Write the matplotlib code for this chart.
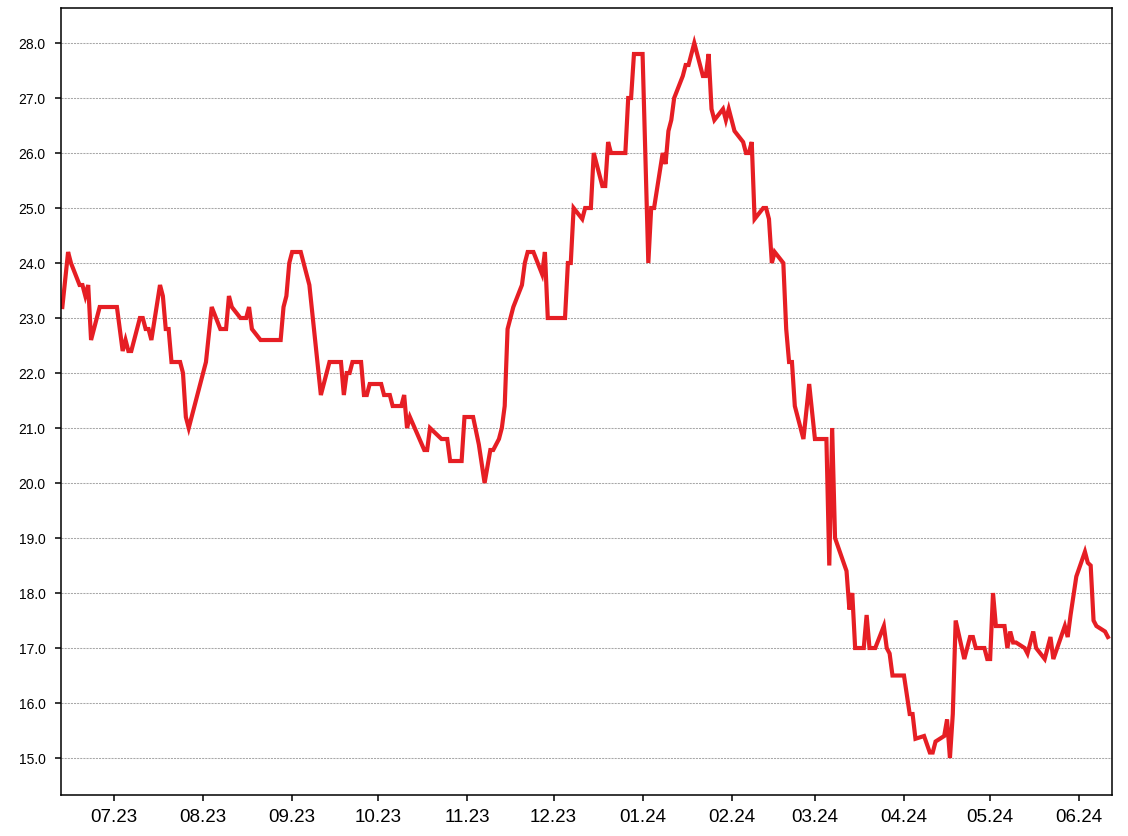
import matplotlib
matplotlib.use("Agg")
import matplotlib.pyplot as plt
import matplotlib.dates as mdates
import pandas as pd
from datetime import datetime

plt.rcParams['font.family'] = ['Liberation Sans', 'DejaVu Sans']

red = '#e61e24'

dates = [
    "2023-06-13", "2023-06-15", "2023-06-16", "2023-06-19", "2023-06-20", "2023-06-21",
    "2023-06-22", "2023-06-23", "2023-06-26", "2023-07-02", "2023-07-04", "2023-07-05",
    "2023-07-06", "2023-07-07", "2023-07-10", "2023-07-11", "2023-07-12", "2023-07-13",
    "2023-07-14", "2023-07-17", "2023-07-18", "2023-07-19", "2023-07-20", "2023-07-21",
    "2023-07-24", "2023-07-25", "2023-07-26", "2023-07-27", "2023-07-31", "2023-08-02",
    "2023-08-04", "2023-08-07", "2023-08-09", "2023-08-10", "2023-08-11", "2023-08-14",
    "2023-08-16", "2023-08-17", "2023-08-18", "2023-08-21", "2023-08-28", "2023-08-29",
    "2023-08-30", "2023-08-31", "2023-09-01", "2023-09-04", "2023-09-07", "2023-09-11",
    "2023-09-14", "2023-09-18", "2023-09-19", "2023-09-20", "2023-09-21", "2023-09-22",
    "2023-09-25", "2023-09-26", "2023-09-27", "2023-09-28", "2023-10-02", "2023-10-03",
    "2023-10-05", "2023-10-06", "2023-10-09", "2023-10-10", "2023-10-11", "2023-10-12",
    "2023-10-17", "2023-10-18", "2023-10-19", "2023-10-23", "2023-10-25", "2023-10-26",
    "2023-10-30", "2023-10-31", "2023-11-03", "2023-11-05", "2023-11-07", "2023-11-09",
    "2023-11-10", "2023-11-12", "2023-11-13", "2023-11-14", "2023-11-15", "2023-11-17",
    "2023-11-20", "2023-11-21", "2023-11-22", "2023-11-24", "2023-11-27", "2023-11-28",
    "2023-11-29", "2023-12-05", "2023-12-06", "2023-12-07", "2023-12-08", "2023-12-11",
    "2023-12-12", "2023-12-14", "2023-12-15", "2023-12-18", "2023-12-19", "2023-12-20",
    "2023-12-21", "2023-12-26", "2023-12-27", "2023-12-28", "2023-12-29", "2024-01-01",
    "2024-01-03", "2024-01-04", "2024-01-05", "2024-01-08", "2024-01-09", "2024-01-10",
    "2024-01-11", "2024-01-12", "2024-01-15", "2024-01-16", "2024-01-17", "2024-01-19",
    "2024-01-22", "2024-01-23", "2024-01-24", "2024-01-25", "2024-01-26", "2024-01-29",
    "2024-01-30", "2024-01-31", "2024-02-02", "2024-02-05", "2024-02-06", "2024-02-07",
    "2024-02-08", "2024-02-09", "2024-02-12", "2024-02-13", "2024-02-14", "2024-02-15",
    "2024-02-16", "2024-02-19", "2024-02-20", "2024-02-21", "2024-02-22", "2024-02-23",
    "2024-02-26", "2024-02-28", "2024-03-01", "2024-03-05", "2024-03-06", "2024-03-07",
    "2024-03-08", "2024-03-12", "2024-03-13", "2024-03-14", "2024-03-15", "2024-03-18",
    "2024-03-19", "2024-03-20", "2024-03-22", "2024-03-25", "2024-03-26", "2024-03-27",
    "2024-03-28", "2024-04-01", "2024-04-03", "2024-04-04", "2024-04-05", "2024-04-08",
    "2024-04-10", "2024-04-11", "2024-04-12", "2024-04-15", "2024-04-16", "2024-04-17",
    "2024-04-18", "2024-04-19", "2024-04-22", "2024-04-24", "2024-04-25", "2024-04-26",
    "2024-04-29", "2024-04-30", "2024-05-01", "2024-05-02", "2024-05-03", "2024-05-06",
    "2024-05-07", "2024-05-08", "2024-05-09", "2024-05-10", "2024-05-13", "2024-05-14",
    "2024-05-16", "2024-05-17", "2024-05-20", "2024-05-22", "2024-05-23", "2024-05-27",
    "2024-05-28", "2024-05-29", "2024-05-31", "2024-06-03", "2024-06-04", "2024-06-05",
    "2024-06-06", "2024-06-07", "2024-06-10", "2024-06-11",
]

prices = [
    23.2, 24.2, 24.0, 23.6, 23.6, 23.4,
    23.6, 22.6, 23.2, 23.2, 22.4, 22.6,
    22.4, 22.4, 23.0, 23.0, 22.8, 22.8,
    22.6, 23.6, 23.4, 22.8, 22.8, 22.2,
    22.2, 22.0, 21.2, 21.0, 21.8, 22.2,
    23.2, 22.8, 22.8, 23.4, 23.2, 23.0,
    23.0, 23.2, 22.8, 22.6, 22.6, 23.2,
    23.4, 24.0, 24.2, 24.2, 23.6, 21.6,
    22.2, 22.2, 21.6, 22.0, 22.0, 22.2,
    22.2, 21.6, 21.6, 21.8, 21.8, 21.6,
    21.6, 21.4, 21.4, 21.6, 21.0, 21.2,
    20.6, 20.6, 21.0, 20.8, 20.8, 20.4,
    20.4, 21.2, 21.2, 20.7, 20.0, 20.6,
    20.6, 20.8, 21.0, 21.4, 22.8, 23.2,
    23.6, 24.0, 24.2, 24.2, 23.8, 24.2,
    23.0, 23.0, 24.0, 24.0, 25.0, 24.8,
    25.0, 25.0, 26.0, 25.4, 25.4, 26.2,
    26.0, 26.0, 27.0, 27.0, 27.8, 27.8,
    24.0, 25.0, 25.0, 26.0, 25.8, 26.4,
    26.6, 27.0, 27.4, 27.6, 27.6, 28.0,
    27.4, 27.4, 27.8, 26.8, 26.6, 26.8,
    26.6, 26.8, 26.4, 26.2, 26.0, 26.0,
    26.2, 24.8, 25.0, 25.0, 24.8, 24.0,
    24.2, 24.0, 22.8, 22.2, 22.2, 21.4,
    20.8, 21.8, 20.8, 20.8, 18.5, 21.0,
    19.0, 18.4, 17.7, 18.0, 17.0, 17.0,
    17.6, 17.0, 17.0, 17.4, 17.0, 16.9,
    16.5, 16.5, 15.8, 15.8, 15.35, 15.4,
    15.1, 15.1, 15.3, 15.4, 15.7, 15.0,
    15.8, 17.5, 16.8, 17.2, 17.2, 17.0,
    17.0, 16.8, 16.8, 18.0, 17.4, 17.4,
    17.0, 17.3, 17.1, 17.1, 17.0, 16.9,
    17.3, 17.0, 16.8, 17.2, 16.8, 17.4,
    17.2, 17.6, 18.3, 18.75, 18.55, 18.5,
    17.5, 17.4, 17.3, 17.2,
]

y_ticks = [15, 16, 17, 18, 19, 20, 21, 22, 23, 24, 25, 26, 27, 28]

x = pd.to_datetime(dates)

fig = plt.figure(figsize=(11.28, 8.36), dpi=100)
ax = fig.add_axes([0.0541, 0.049, 0.9317, 0.9414])

ax.plot(x, prices, color=red, linewidth=3.0, solid_joinstyle='miter')

ax.set_xlim(datetime(2023, 6, 12, 13), datetime(2024, 6, 12, 10))
ax.set_ylim(14.327, 28.636)

ax.set_yticks(y_ticks)
ax.yaxis.set_major_formatter(matplotlib.ticker.FormatStrFormatter('%.1f'))
ax.xaxis.set_major_locator(mdates.MonthLocator())
ax.xaxis.set_major_formatter(mdates.DateFormatter('%m.%y'))

ax.grid(axis='y', color='#a8a8a8', linestyle=(0, (2, 1)), linewidth=0.75)
ax.set_axisbelow(True)

for s in ax.spines.values():
    s.set_linewidth(1.1)
    s.set_color('black')

ax.tick_params(axis='y', labelsize=10, length=4, width=1.1, pad=7)
ax.tick_params(axis='x', labelsize=13.5, length=4, width=1.1, pad=6)

fig.savefig('out.png', dpi=100)
